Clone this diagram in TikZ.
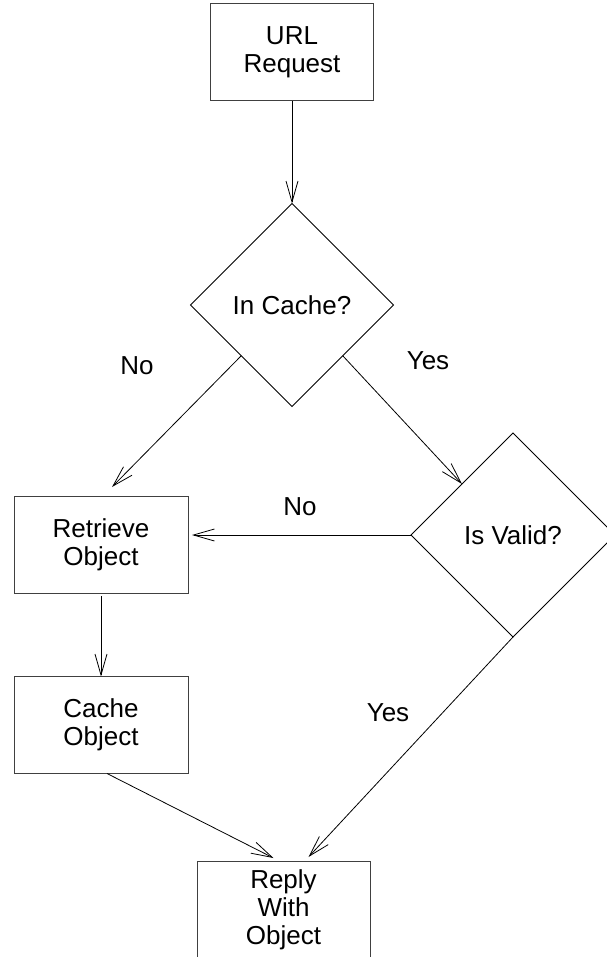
\documentclass[tikz,border=0pt]{standalone}
\usepackage{fontspec}
\setmainfont{Liberation Sans}
\usetikzlibrary{shapes.geometric,arrows.meta,calc}
\begin{document}
\begin{tikzpicture}[x=1pt,y=-1pt,
  box/.style={draw=black!75,line width=1pt,minimum width=174pt,minimum height=97pt,align=center,outer sep=0pt},
  decision/.style={draw,line width=0.8pt,shape=diamond,aspect=1,inner sep=0pt,outer sep=0pt},
  flow/.style={line width=0.8pt,-{Straight Barb[length=21pt,width=12pt]}},
  lbl/.style={font=\fontsize{26}{28}\selectfont}]
\useasboundingbox (0,0) rectangle (606,957);
\tikzset{every node/.append style={font=\fontsize{26}{28}\selectfont}}
\node[box,minimum width=163pt] (url) at (292,52.5) {URL\\Request};
\node[decision,minimum width=203pt,minimum height=203pt] (incache) at (292,305) {In Cache?};
\node[decision,minimum width=204pt,minimum height=204pt] (valid) at (513,535) {Is Valid?};
\node[box] (retrieve) at (101,544.5) {Retrieve\\Object};
\node[box] (cache) at (101,725) {Cache\\Object};
\node[box,minimum width=173pt] (reply) at (283.5,909.5) {Reply\\With\\Object};
\draw[flow] (url.south) -- (incache.north);
\draw[flow] ($(incache.west)!0.5!(incache.south)$) -- ($(retrieve.north)+(11,-9)$);
\draw[flow] ($(incache.east)!0.5!(incache.south)$) -- ($(valid.west)!0.5!(valid.north)$);
\draw[flow] (valid.west) -- ($(valid.west -| retrieve.east)+(4,0)$);
\draw[flow] ($(retrieve.south)+(0,3)$) -- (cache.north);
\draw[flow] ($(cache.south)+(6,0)$) -- ($(reply.north)+(-10,-3)$);
\draw[flow] (valid.south) -- ($(reply.north)+(25,-4)$);
\node[lbl] (no1) at (137,366) {No};
\node[lbl] (yes1) at (428,361) {Yes};
\node[lbl] (no2) at (300,507) {No};
\node[lbl] (yes2) at (388,713) {Yes};
\end{tikzpicture}
\end{document}
